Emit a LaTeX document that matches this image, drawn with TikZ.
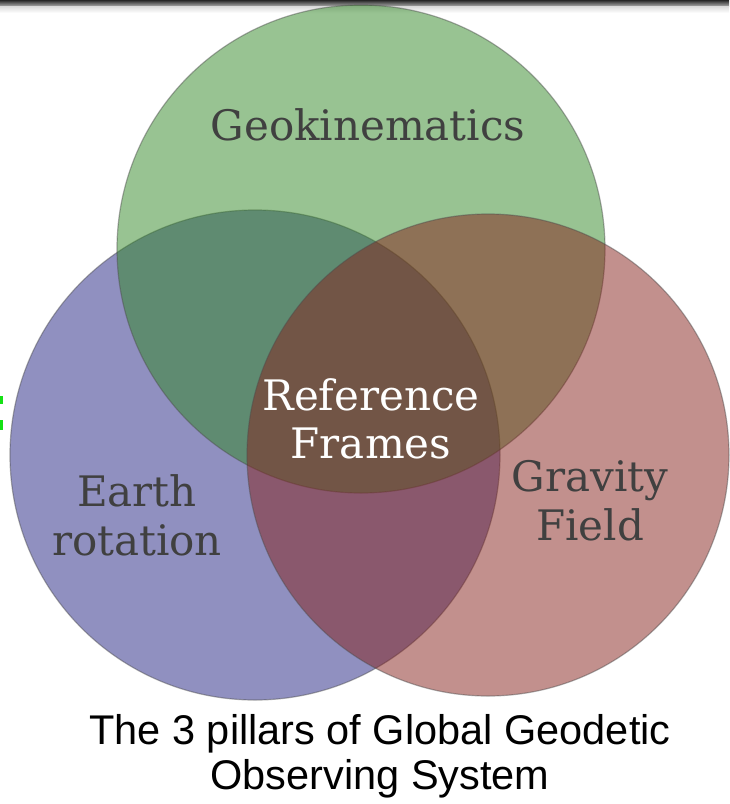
\documentclass[tikz,border=0pt]{standalone}
\usepackage{fontspec}
\setmainfont{DejaVu Serif}
\newfontfamily\capfont{Liberation Sans}
\usetikzlibrary{positioning}
\definecolor{geogreen}{RGB}{49,135,37}
\definecolor{rotblue}{RGB}{33,33,129}
\definecolor{gravred}{RGB}{133,33,27}
\definecolor{labgray}{gray}{0.25}
\definecolor{cutgreen}{RGB}{20,225,20}
\tikzset{
  pillar/.style={circle,draw=black!70,line width=1.2pt,fill opacity=0.5,draw opacity=0.45,inner sep=0pt},
  plab/.style={text=labgray,font=\fontsize{42}{49}\selectfont,align=center},
  corelab/.style={text=white,font=\fontsize{42}{48}\selectfont,align=center},
  caplab/.style={font=\capfont\fontsize{41.5}{45}\selectfont,align=center},
}
\begin{document}
\begin{tikzpicture}[x=1pt,y=-1pt]
  \useasboundingbox (0,0) rectangle (729,804);
  % window edge at the top
  \shade[top color=black!85,bottom color=black!35] (0,0) rectangle (729,6);
  \shade[top color=black!15,bottom color=white] (0,6) rectangle (729,13);
  % the three pillars (blue, green, red drawn in this order)
  \node[pillar,fill=rotblue,minimum size=490pt]  (rot)  at (255,455) {};
  \node[pillar,fill=geogreen,minimum size=488pt] (geo)  at (361,249) {};
  \node[pillar,fill=gravred,minimum size=482pt]  (grav) at (488,455) {};
  % labels
  \node[plab]    (geotxt)  at (368,125) {Geokinematics};
  \node[plab]    (rottxt)  at (137,515) {Earth\\rotation};
  \node[plab]    (gravtxt) at (590,501) {Gravity\\Field};
  \node[corelab] (reftxt)  at (371,419) {Reference\\Frames};
  \node[caplab]  (caption) at (380,756) {The 3 pillars of Global Geodetic\\Observing System};
  % cut-off glyph at the left border
  \fill[cutgreen] (0,396) rectangle (3,404);
  \fill[cutgreen] (0,420) rectangle (3,430);
\end{tikzpicture}
\end{document}
